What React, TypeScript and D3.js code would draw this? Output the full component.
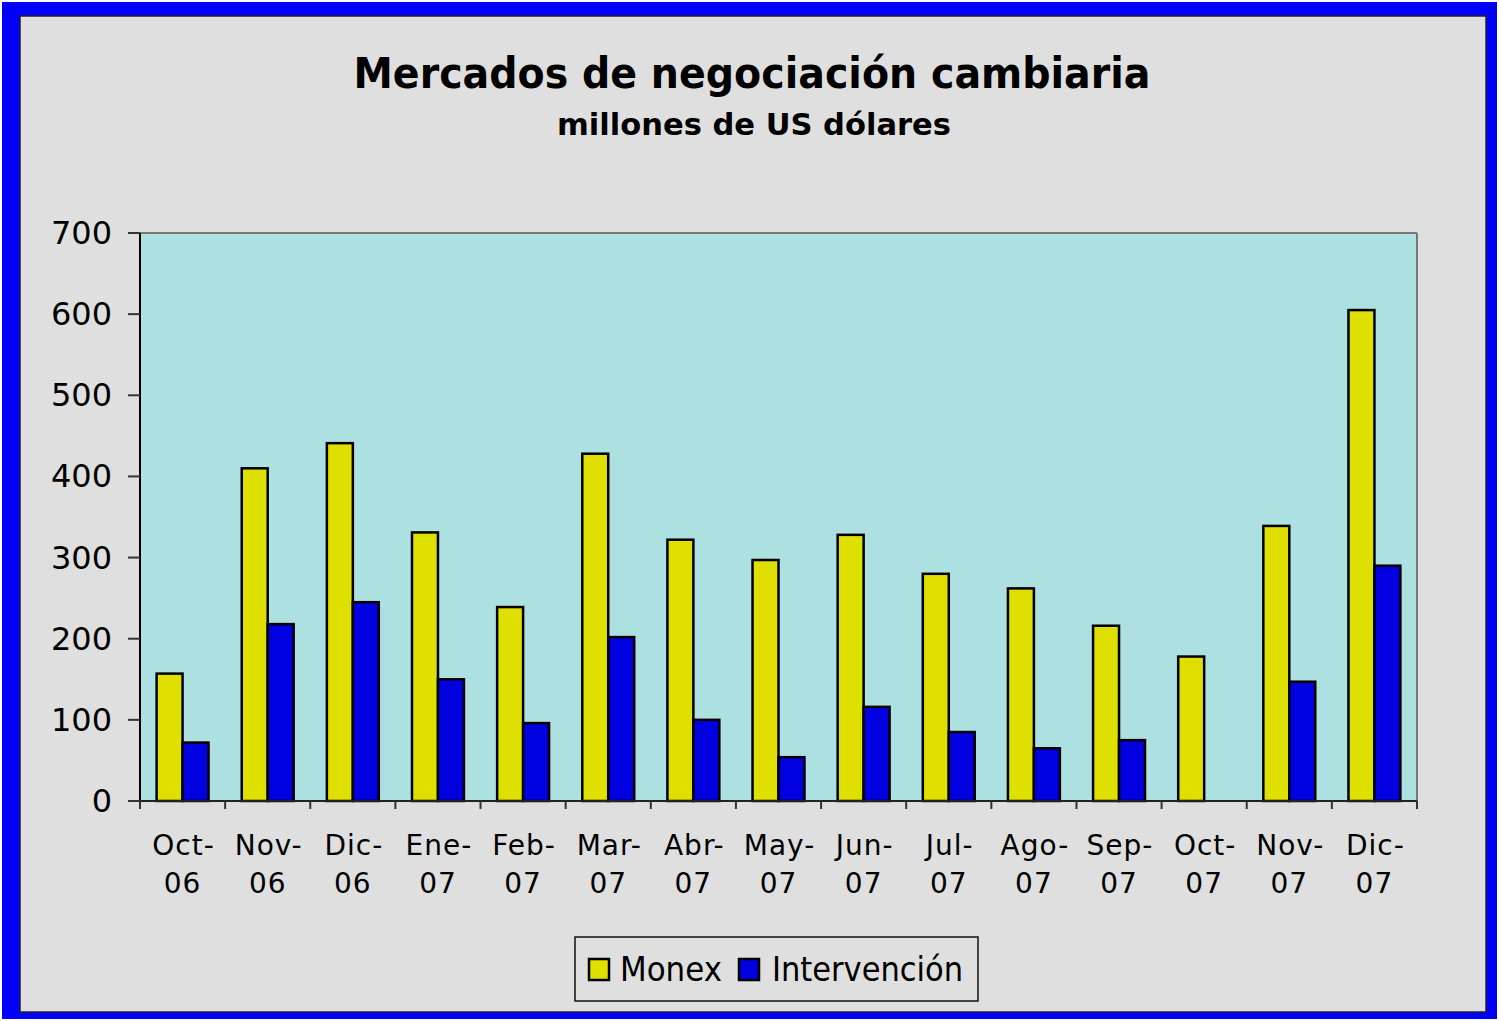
import React from "react";
import * as d3 from "d3";

const months = ["Oct-|06", "Nov-|06", "Dic-|06", "Ene-|07", "Feb-|07", "Mar-|07", "Abr-|07", "May-|07", "Jun-|07", "Jul-|07", "Ago-|07", "Sep-|07", "Oct-|07", "Nov-|07", "Dic-|07"];
const monex = [157, 410, 441, 331, 239, 428, 322, 297, 328, 280, 262, 216, 178, 339, 605];
const intervencion = [72, 218, 245, 150, 96, 202, 100, 54, 116, 85, 65, 75, 0, 147, 290];
const yTicks = [0, 100, 200, 300, 400, 500, 600, 700];
const seriesNames = ["Monex", "Intervención"];

const W = 1499;
const H = 1021;
const left = 140, right = 1417, top = 233, bottom = 801;
const font = "Tahoma, 'DejaVu Sans', sans-serif";

export default function App() {
  const x = d3.scaleBand<string>().domain(months).range([left, right]).paddingInner(0).paddingOuter(0);
  const y = d3.scaleLinear().domain([0, 700]).range([bottom, top]);
  const inner = d3.scaleBand<string>().domain(seriesNames).range([0, x.bandwidth()]).paddingOuter(0.64).paddingInner(0);
  const colors = ["#E0E000", "#0000E0"];
  const data = [monex, intervencion];

  return (
    <svg width={W} height={H} style={{ position: "absolute", left: 0, top: 0 }} fontFamily={font}>
      <rect x={0} y={0} width={W} height={H} fill="#ffffff" />
      <rect x={2} y={2} width={W - 4} height={H - 4} fill="#0000FF" />
      <rect x={20} y={16} width={1466} height={996} fill="#DFDFDF" stroke="#222" strokeWidth={1.5} />
      <text x={752} y={88} textAnchor="middle" fontSize={43} fontWeight="bold" fill="#000" textLength={797} lengthAdjust="spacingAndGlyphs">
        Mercados de negociación cambiaria
      </text>
      <text x={754} y={135} textAnchor="middle" fontSize={31} fontWeight="bold" fill="#000" textLength={394} lengthAdjust="spacingAndGlyphs">
        millones de US dólares
      </text>

      <rect x={left} y={top} width={right - left} height={bottom - top} fill="#ADE0E0" />
      <line x1={left} y1={top} x2={right} y2={top} stroke="#777" strokeWidth={2} />
      <line x1={right} y1={top} x2={right} y2={bottom} stroke="#777" strokeWidth={2} />

      {data.map((vals, si) =>
        vals.map((v, i) =>
          v > 0 ? (
            <rect
              key={`${si}-${i}`}
              x={(x(months[i]) as number) + (inner(seriesNames[si]) as number)}
              y={y(v)}
              width={inner.bandwidth()}
              height={bottom - y(v)}
              fill={colors[si]}
              stroke="#000"
              strokeWidth={2.5}
            />
          ) : null
        )
      )}

      <line x1={left} y1={top} x2={left} y2={bottom} stroke="#000" strokeWidth={2} />
      <line x1={left} y1={bottom} x2={right} y2={bottom} stroke="#222" strokeWidth={2} />
      {yTicks.map((t) => (
        <g key={t}>
          <line x1={left - 12} x2={left} y1={y(t)} y2={y(t)} stroke="#333" strokeWidth={2} />
          <text x={112} y={y(t) + 11} textAnchor="end" fontSize={32} fill="#000">
            {t}
          </text>
        </g>
      ))}
      {months.map((m, i) => (
        <line key={i} x1={(x(m) as number)} x2={(x(m) as number)} y1={bottom} y2={bottom + 8} stroke="#333" strokeWidth={2} />
      ))}
      <line x1={right} x2={right} y1={bottom} y2={bottom + 8} stroke="#333" strokeWidth={2} />
      {months.map((m, i) => {
        const [a, b] = m.split("|");
        const cx = (x(m) as number) + x.bandwidth() / 2;
        return (
          <text key={i} textAnchor="middle" fontSize={28} fill="#000" letterSpacing={1}>
            <tspan x={cx + 1} y={855}>{a}</tspan>
            <tspan x={cx} y={893}>{b}</tspan>
          </text>
        );
      })}

      <rect x={575} y={937} width={403} height={64} fill="#DFDFDF" stroke="#111" strokeWidth={1.5} />
      <rect x={589} y={959} width={20} height={21} fill={colors[0]} stroke="#000" strokeWidth={2.5} />
      <text x={620} y={981} fontSize={33} fill="#000" textLength={102} lengthAdjust="spacingAndGlyphs">{seriesNames[0]}</text>
      <rect x={739} y={959} width={20} height={21} fill={colors[1]} stroke="#000" strokeWidth={2.5} />
      <text x={772} y={981} fontSize={33} fill="#000" textLength={191} lengthAdjust="spacingAndGlyphs">{seriesNames[1]}</text>
    </svg>
  );
}
